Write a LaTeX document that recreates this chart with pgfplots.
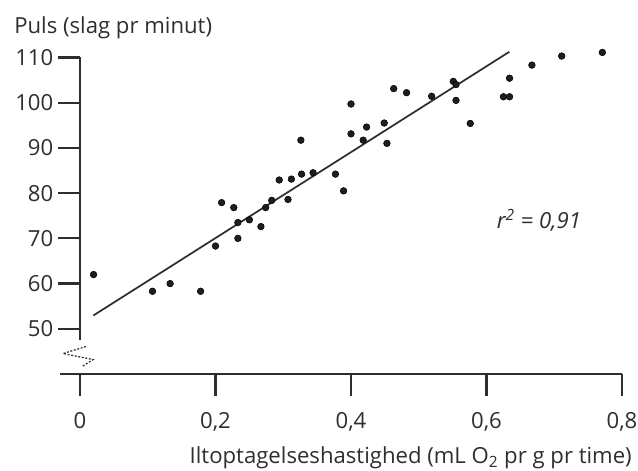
\documentclass[border=0pt]{standalone}
\usepackage{fontspec}
\setmainfont{Open Sans}
\usepackage{pgfplots}
\pgfplotsset{compat=1.18}
\definecolor{ink}{HTML}{2E2E2E}
\definecolor{dot}{HTML}{1E1E1E}

\begin{document}
\begin{tikzpicture}
\begin{axis}[
    scale only axis, width=406.5pt, height=237.5pt,
    xmin=0, xmax=0.8, ymin=40, ymax=110,
    axis x line=bottom, axis y line=left,
    axis line style={draw=none},
    clip=false,
    xtick={0,0.2,0.4,0.6,0.8},
    ytick={50,60,70,80,90,100,110},
    tick align=outside, major tick length=16.5pt,
    tick style={ink, line width=1.7pt},
    /pgf/number format/assume math mode=true,
    /pgf/number format/use comma,
    tick label style={font=\fontsize{16.6}{19}\selectfont, text=ink},
    xticklabel style={yshift=-9pt},
]
  \addplot[only marks, mark=*, mark size=2.5pt, mark options={fill=dot, draw=none}] table {
    x      y
    0.020  62.0
    0.107  58.3
    0.133  60.0
    0.178  58.3
    0.200  68.3
    0.233  70.0
    0.209  77.9
    0.227  76.8
    0.233  73.5
    0.250  74.1
    0.267  72.6
    0.274  76.8
    0.283  78.4
    0.294  82.9
    0.307  78.6
    0.312  83.1
    0.327  84.2
    0.326  91.7
    0.344  84.5
    0.377  84.2
    0.389  80.5
    0.400  99.7
    0.400  93.1
    0.418  91.7
    0.423  94.6
    0.449  95.5
    0.453  91.0
    0.463  103.1
    0.482  102.2
    0.519  101.4
    0.551  104.7
    0.555  104.0
    0.555  100.5
    0.576  95.4
    0.625  101.3
    0.634  101.3
    0.634  105.4
    0.667  108.3
    0.711  110.3
    0.771  111.1
  };
  \addplot[no marks, ink, line width=1.3pt] coordinates {(0.0197,52.95) (0.6337,111.24)};

  % axis lines drawn by hand: y axis stops short, with a break mark
  \draw[ink, line width=1.7pt] (axis cs:-0.0295,40) -- (axis cs:0.8,40);
  \draw[ink, line width=1.7pt] (axis cs:0,110) -- (axis cs:0,47.6);
  \draw[ink, line width=0.9pt, dash pattern=on 1.5pt off 1.2pt]
    (axis cs:0.0089,46.09) -- (axis cs:-0.0251,44.54) -- (axis cs:0.0192,43.21) -- (axis cs:0.0030,41.66);

  \node[anchor=base west, text=ink, font=\fontsize{16.6}{19}\selectfont, inner sep=0pt]
    at (axis cs:-0.0974,115.38) {Puls (slag pr minut)};
  \node[anchor=base east, text=ink, font=\fontsize{16.6}{19}\selectfont, inner sep=0pt]
    at (axis cs:0.8148,20.18) {Iltoptagelseshastighed (mL O\textsubscript{2} pr g pr time)};
  \node[text=ink, font=\fontsize{16.6}{19}\selectfont\itshape, inner sep=0pt]
    at (axis cs:0.6775,73.98) {r\textsuperscript{2} = 0,91};

  \coordinate (bbsw) at (axis cs:-0.1181,18.65);
  \coordinate (bbne) at (axis cs:0.8236,122.69);
\end{axis}
\pgfresetboundingbox
\path[use as bounding box] (bbsw) rectangle (bbne);
\end{tikzpicture}
\end{document}
